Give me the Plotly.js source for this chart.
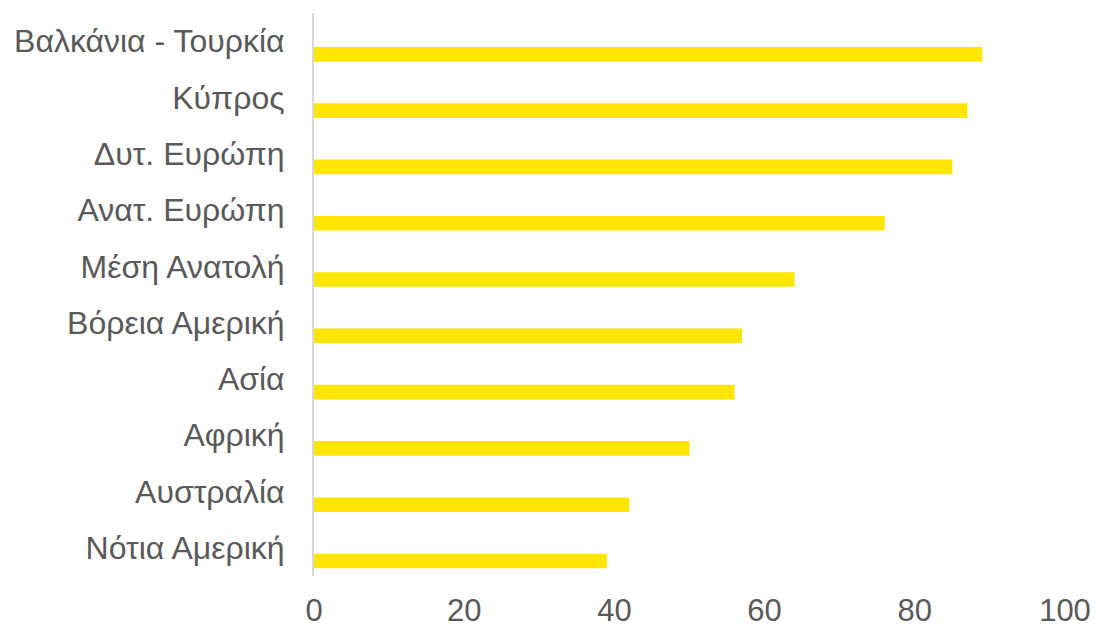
<!DOCTYPE html>
<html>
<head>
<meta charset="utf-8">
<script src="https://cdn.plot.ly/plotly-3.0.1.min.js"></script>
<style>html,body{margin:0;padding:0;background:#fff;}#chart{width:1097px;height:627px;}</style>
</head>
<body>
<div id="chart"></div>
<script>
const regions = ["Βαλκάνια - Τουρκία","Κύπρος","Δυτ. Ευρώπη","Ανατ. Ευρώπη","Μέση Ανατολή","Βόρεια Αμερική","Ασία","Αφρική","Αυστραλία","Νότια Αμερική"];
const values = [89,87,85,76,64,57,56,50,42,39];
const xTicks = [0,20,40,60,80,100];

const trace = {
  type: 'bar',
  orientation: 'h',
  y: regions,
  x: values,
  width: 0.26,
  offset: 0.104,
  marker: {color: '#FFE600'},
  hoverinfo: 'x+y'
};

const layout = {
  width: 1097, height: 627,
  margin: {l: 314, r: 32, t: 13, b: 51, pad: 0},
  paper_bgcolor: '#fff', plot_bgcolor: '#fff',
  showlegend: false,
  font: {family: 'Liberation Sans, Arial, sans-serif', size: 31, color: '#595959'},
  xaxis: {
    range: [0, 100],
    tickvals: xTicks,
    ticktext: xTicks.map(String),
    showgrid: false, zeroline: false, showline: false,
    ticks: 'outside', ticklen: 7, tickcolor: 'rgba(0,0,0,0)',
    tickfont: {size: 31, color: '#595959'}
  },
  yaxis: {
    type: 'category',
    autorange: 'reversed',
    showgrid: false, zeroline: false,
    showline: true, linecolor: '#d9d9d9', linewidth: 2,
    ticks: '', ticklabelstandoff: 21,
    tickfont: {size: 32, color: '#595959'}
  }
};

Plotly.newPlot('chart', [trace], layout, {displayModeBar: false, staticPlot: true});
</script>
</body>
</html>
